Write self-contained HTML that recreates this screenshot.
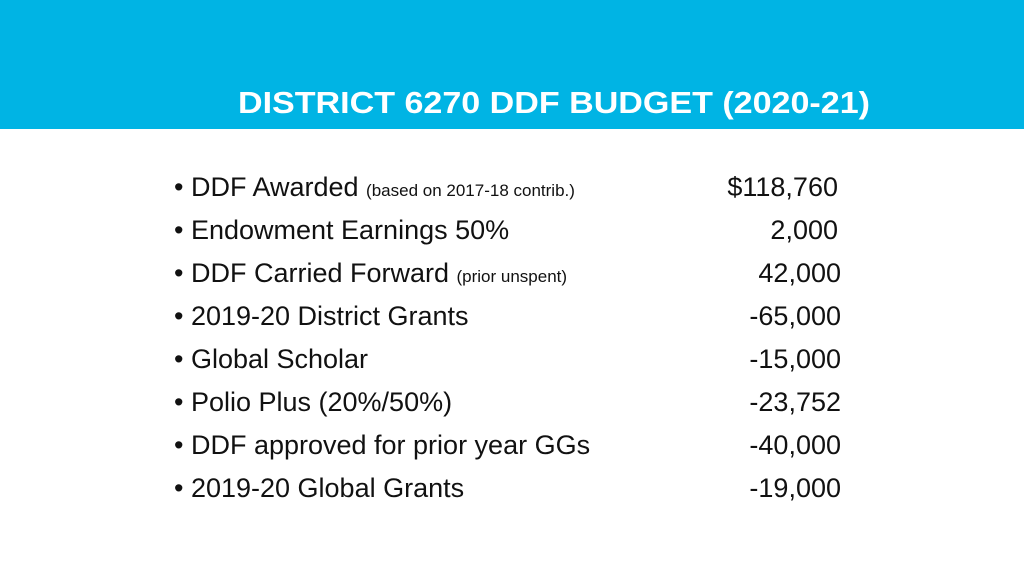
<!DOCTYPE html>
<html><head><meta charset="utf-8"><style>
html,body{margin:0;padding:0;background:#fff;}
svg{display:block;font-family:"Liberation Sans",Arial,sans-serif;}
</style></head><body>
<svg width="1024" height="576" viewBox="0 0 1024 576">
<rect x="0" y="0" width="1024" height="129" fill="#00b4e4"/>
<text x="238" y="113" font-size="31" font-weight="bold" fill="#fff" textLength="632" lengthAdjust="spacingAndGlyphs">DISTRICT 6270 DDF BUDGET (2020-21)</text>
<g fill="#111" font-size="27">
<text x="174" y="196">• DDF Awarded <tspan font-size="17">(based on 2017-18 contrib.)</tspan></text>
<text x="838" y="196" text-anchor="end">$118,760</text>
<text x="174" y="239">• Endowment Earnings 50%</text>
<text x="838" y="239" text-anchor="end">2,000</text>
<text x="174" y="282">• DDF Carried Forward <tspan font-size="17">(prior unspent)</tspan></text>
<text x="841" y="282" text-anchor="end">42,000</text>
<text x="174" y="325">• 2019-20 District Grants</text>
<text x="841" y="325" text-anchor="end">-65,000</text>
<text x="174" y="368">• Global Scholar</text>
<text x="841" y="368" text-anchor="end">-15,000</text>
<text x="174" y="411">• Polio Plus (20%/50%)</text>
<text x="841" y="411" text-anchor="end">-23,752</text>
<text x="174" y="454">• DDF approved for prior year GGs</text>
<text x="841" y="454" text-anchor="end">-40,000</text>
<text x="174" y="497">• 2019-20 Global Grants</text>
<text x="841" y="497" text-anchor="end">-19,000</text>
</g>
</svg>
</body></html>
